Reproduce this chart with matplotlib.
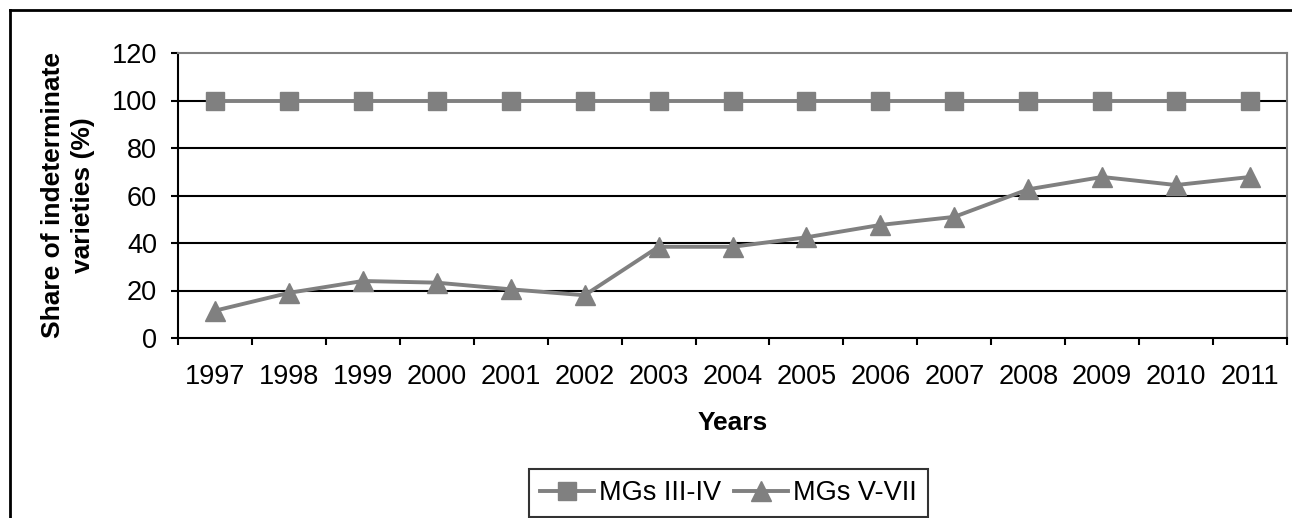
import matplotlib
matplotlib.use("Agg")
import matplotlib.pyplot as plt
from matplotlib.lines import Line2D
import numpy as np

plt.rcParams['font.family'] = ['Liberation Sans', 'DejaVu Sans']

# data
years = ['1997', '1998', '1999', '2000', '2001', '2002', '2003', '2004',
         '2005', '2006', '2007', '2008', '2009', '2010', '2011']
mg_iii_iv = [100, 100, 100, 100, 100, 100, 100, 100, 100, 100, 100, 100, 100, 100, 100]
mg_v_vii = [11.5, 19, 24, 23.3, 20.5, 18, 38.4, 38.4, 42.4, 47.6, 51, 62.6, 67.8, 64.4, 67.8]

gray = '#808080'
W, H = 1292, 518
fs = 19.5

fig = plt.figure(figsize=(W / 100, H / 100), dpi=100)
ax = fig.add_axes([178 / W, 1 - 338 / H, (1287 - 178) / W, (338 - 53) / H])

x = np.arange(len(years))
ax.plot(x, mg_iii_iv, color=gray, lw=2.8, marker='s', ms=13.5,
        label='MGs III-IV', zorder=4, clip_on=False)
ax.plot(x, mg_v_vii, color=gray, lw=2.8, marker='^', ms=15,
        label='MGs V-VII', zorder=4, clip_on=False)

ax.set_xlim(-0.5, len(years) - 0.5)
ax.set_ylim(0, 120)
ax.set_yticks(range(0, 121, 20))

# category axis: labels centred, ticks at category boundaries
ax.set_xticks(x)
ax.set_xticklabels(years)
ax.set_xticks(np.arange(-0.5, len(years)), minor=True)
ax.tick_params(axis='x', which='major', length=0, pad=19, labelsize=fs)
ax.tick_params(axis='x', which='minor', length=5, width=1.5, direction='out')
ax.tick_params(axis='y', length=5, width=1.5, direction='out', pad=10, labelsize=fs)

for y in range(20, 101, 20):
    ax.axhline(y, color='black', lw=1.5, zorder=1)

for s in ['left', 'bottom']:
    ax.spines[s].set_color('black')
    ax.spines[s].set_linewidth(1.5)
for s in ['top', 'right']:
    ax.spines[s].set_color(gray)
    ax.spines[s].set_linewidth(1.5)

ax.set_xlabel('Years', fontsize=19, fontweight='bold', labelpad=15)
ax.set_ylabel('Share of indeterminate\nvarieties (%)', fontsize=19,
              fontweight='bold', labelpad=12, linespacing=1.3)

leg = fig.legend(loc='center', bbox_to_anchor=(728.5 / W, 1 - 493 / H),
                 ncol=2, fontsize=fs, frameon=True, fancybox=False,
                 handlelength=2.0, columnspacing=0.45, handletextpad=0.2,
                 borderpad=0.4, borderaxespad=0)
leg.get_frame().set_edgecolor('black')
leg.get_frame().set_linewidth(1.5)

# outer chart border (left and top edges visible)
fig.add_artist(Line2D([9.5 / W, 9.5 / W], [0, 1 - 10 / H], color='black',
                      lw=2, transform=fig.transFigure))
fig.add_artist(Line2D([9.5 / W, 1], [1 - 10 / H, 1 - 10 / H], color='black',
                      lw=2, transform=fig.transFigure))

fig.savefig('out.png', dpi=100)
